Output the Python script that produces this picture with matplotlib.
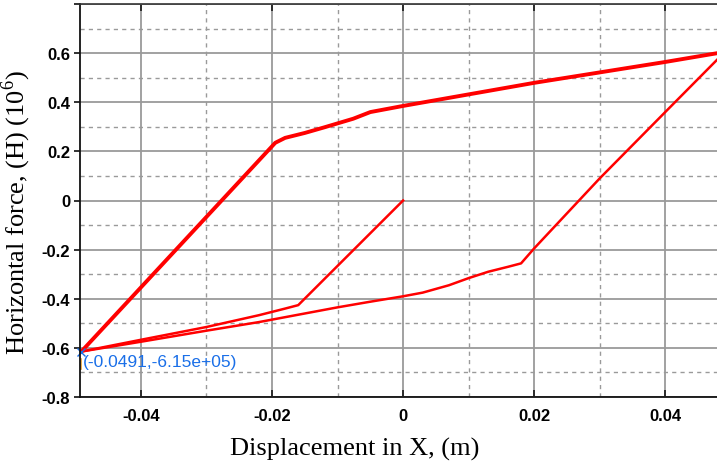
import matplotlib
matplotlib.use("Agg")
import matplotlib.pyplot as plt
from matplotlib.ticker import FixedLocator
import numpy as np

plt.rcParams["mathtext.fontset"] = "custom"
plt.rcParams["mathtext.rm"] = "Liberation Serif"

# ---- data (displacement m, force 1e6) ----
init_x = [0.0, -0.008, -0.016, -0.018, -0.022, -0.030, -0.040, -0.0491]
init_y = [0.0, -0.213, -0.426, -0.440, -0.467, -0.515, -0.567, -0.615]

load_x = [-0.0491, -0.0195, -0.018, -0.015, -0.012, -0.0076, -0.005, -0.002, 0.0, 0.020, 0.040, 0.0491]
load_y = [-0.615, 0.235, 0.255, 0.275, 0.298, 0.333, 0.360, 0.375, 0.385, 0.479, 0.564, 0.605]

unload_x = [0.0491, 0.040, 0.030, 0.020, 0.018, 0.016, 0.013, 0.010, 0.007, 0.003, 0.0, -0.005, -0.010, -0.022, -0.030, -0.040, -0.0491]
unload_y = [0.605, 0.360, 0.090, -0.195, -0.256, -0.270, -0.290, -0.316, -0.345, -0.375, -0.390, -0.412, -0.435, -0.495, -0.530, -0.575, -0.615]

xticks = [-0.04, -0.02, 0.0, 0.02, 0.04]
xtick_labels = ["-0.04", "-0.02", "0", "0.02", "0.04"]
yticks = [-0.8, -0.6, -0.4, -0.2, 0.0, 0.2, 0.4, 0.6, 0.8]
ytick_labels = ["-0.8", "-0.6", "-0.4", "-0.2", "0", "0.2", "0.4", "0.6", ""]
xminor = [-0.03, -0.01, 0.01, 0.03]
yminor = [-0.7, -0.5, -0.3, -0.1, 0.1, 0.3, 0.5, 0.7]

tip_x, tip_y = -0.0491, -0.615
tip_text = "(-0.0491,-6.15e+05)"

fig = plt.figure(figsize=(7.17, 4.64), dpi=100)
ax = fig.add_axes([80/717, 1-398/464, 637/717, 393/464])

ax.set_xlim(-0.0493, 0.0479)
ax.set_ylim(-0.8, 0.8)

ax.xaxis.set_major_locator(FixedLocator(xticks))
ax.yaxis.set_major_locator(FixedLocator(yticks))
ax.xaxis.set_minor_locator(FixedLocator(xminor))
ax.yaxis.set_minor_locator(FixedLocator(yminor))
ax.set_xticklabels(xtick_labels)
ax.set_yticklabels(ytick_labels)

ax.grid(True, which="major", color="#9a9a9a", lw=1.3, ls="-")
ax.grid(True, which="minor", color="#9a9a9a", lw=1.0, ls=(0, (3, 3)))
ax.set_axisbelow(True)

ax.tick_params(axis="x", which="major", direction="in", length=5, width=1.3,
               top=True, bottom=True, color="#222222", pad=8)
ax.tick_params(axis="y", which="major", direction="out", length=4, width=1.3,
               left=True, right=False, color="#222222", pad=3)
ax.tick_params(which="minor", length=0)
for lab in ax.get_xticklabels() + ax.get_yticklabels():
    lab.set_fontfamily("Liberation Sans")
    lab.set_fontweight("bold")
    lab.set_fontsize(12)

for s in ["left", "bottom"]:
    ax.spines[s].set_color("#111111")
    ax.spines[s].set_linewidth(1.3)
ax.spines["top"].set_color("#333333")
ax.spines["top"].set_linewidth(1.2)
ax.spines["right"].set_visible(False)

red = "#ff0000"
ax.plot(init_x, init_y, color=red, lw=1.8, solid_joinstyle="round")
ax.plot(unload_x, unload_y, color=red, lw=1.8, solid_joinstyle="round")
ax.plot(load_x, load_y, color=red, lw=2.8, solid_joinstyle="round")

# data tip
ax.plot([tip_x], [tip_y], marker="x", color="#1a6fe8", ms=6, mew=1.0, clip_on=False)
ax.plot([tip_x, tip_x], [tip_y - 0.03, tip_y - 0.07], color="#e8a030", lw=1.2, clip_on=False)
ax.annotate(tip_text, xy=(tip_x, tip_y), xytext=(1, -2), textcoords="offset points",
            ha="left", va="top", color="#1a6fe8", fontsize=12.5,
            fontfamily="Liberation Sans")

ax.set_xlabel("Displacement in X, (m)", fontfamily="Liberation Serif", fontsize=19, labelpad=9)
ax.set_ylabel("Horizontal force, (H) (10$^6$)", fontfamily="Liberation Serif", fontsize=19, labelpad=6)
ax.xaxis.set_label_coords(0.432, -0.102)
ax.yaxis.set_label_coords(-0.074, 0.473)

fig.savefig("out.png", dpi=100)
